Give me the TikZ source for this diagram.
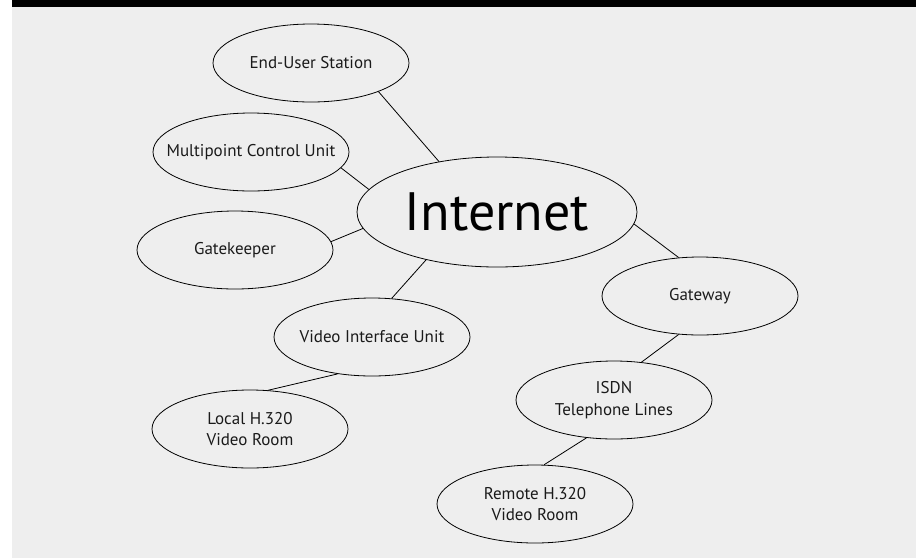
\documentclass[tikz,border=0pt]{standalone}
\usepackage{fontspec}
\setmainfont{PT Sans}
\usetikzlibrary{shapes.geometric}
\definecolor{bg}{HTML}{EEEEEE}
\definecolor{txt}{HTML}{1A1A1A}
\begin{document}
\begin{tikzpicture}[x=1pt,y=-1pt,
  unit/.style={ellipse, draw=black, line width=0.8pt, minimum width=196pt, minimum height=78pt, inner sep=0pt,
    label={[font=\fontsize{17}{21.5}\selectfont, align=center, text=txt, inner sep=0pt]center:#1}},
  link/.style={line width=0.8pt, draw=black}]
\useasboundingbox (0,0) rectangle (916,558);
\fill[white] (0,0) rectangle (916,558);
\fill[bg] (12,0) rectangle (916,558);
\fill[black] (12,0) rectangle (916,7);

\node[unit={End-User Station}] (eu) at (311,63) {};
\node[unit={Multipoint Control Unit}] (mcu) at (251,152) {};
\node[unit={Gatekeeper}] (gk) at (235,250) {};
\node[ellipse, draw=black, line width=0.8pt, minimum width=280pt, minimum height=110pt, inner sep=0pt,
  label={[font=\fontsize{54}{60}\selectfont, text=black, inner sep=0pt]center:Internet}] (inet) at (497,212) {};
\node[unit={Gateway}] (gw) at (700,296) {};
\node[unit={Video Interface Unit}] (viu) at (372,337) {};
\node[unit={Local H.320\\Video Room}] (loc) at (250,429) {};
\node[unit={ISDN\\Telephone Lines}] (isdn) at (614,400) {};
\node[unit={Remote H.320\\Video Room}] (rem) at (535,504) {};

\draw[link] (eu.-23) -- (inet.139);
\draw[link] (mcu.-10) -- (inet.170);
\draw[link] (gk.5) -- (inet.187);
\draw[link] (viu.63) -- (inet.214);
\draw[link] (inet.-5) -- (gw.119);
\draw[link] (gw.241) -- (isdn.54);
\draw[link] (viu.227) -- (loc.65);
\draw[link] (isdn.234) -- (rem.77);
\end{tikzpicture}
\end{document}
